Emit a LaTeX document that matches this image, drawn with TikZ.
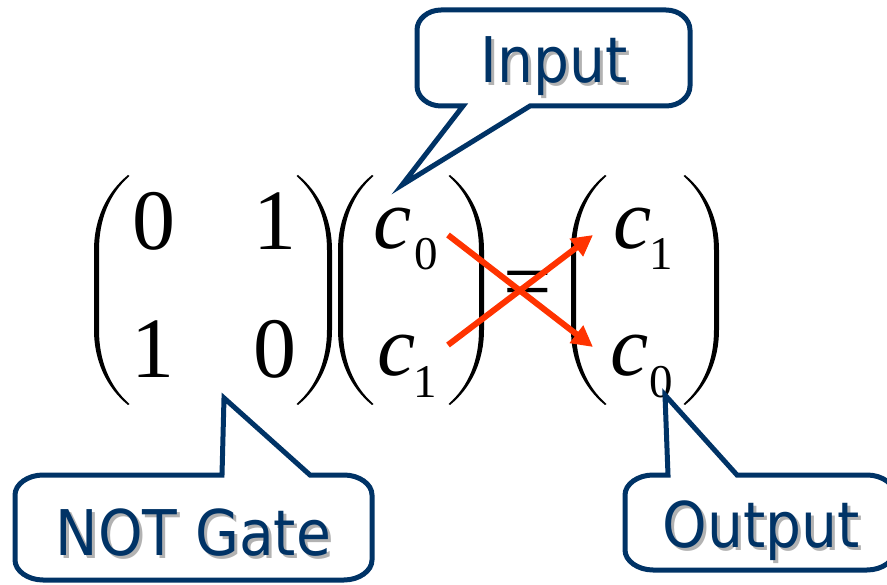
\documentclass[tikz,border=0pt]{standalone}
\usepackage{fontspec}
\usetikzlibrary{arrows.meta}
\newfontfamily\mathserif{Liberation Serif}
\newfontfamily\labelfont{DejaVu Sans Condensed}
\definecolor{calloutblue}{RGB}{0,51,102}
\definecolor{swaporange}{RGB}{255,51,0}
\definecolor{textshadow}{RGB}{178,178,178}

\tikzset{
  entry/.style={inner sep=0pt, anchor=base, font=\mathserif\fontsize{86}{90}\selectfont},
  amplitude/.style={inner sep=0pt, anchor=base, font=\mathserif\itshape\fontsize{86}{90}\selectfont},
  index/.style={inner sep=0pt, anchor=base, font=\mathserif\fontsize{47}{50}\selectfont},
  calloutbox/.style={draw=calloutblue, line width=5pt, fill=white, line join=miter},
  calloutlabel/.style={inner sep=0pt, anchor=base, text=calloutblue,
    font=\labelfont\fontsize{63}{66}\selectfont},
  labelshadow/.style={calloutlabel, text=textshadow},
  swaparrow/.style={draw=swaporange, line width=6pt,
    -{Triangle[length=21pt,width=21pt]}},
  % tall parenthesis, tip at the origin, opening to the right
  paren/.pic={
    \fill (0,0) .. controls (-22,18) and (-34,45) .. (-34,75)
      -- (-34,155) .. controls (-34,185) and (-22,212) .. (0,230)
      -- (1.5,229) .. controls (-19,211) and (-29,185) .. (-29,155)
      -- (-29,75) .. controls (-29,45) and (-19,19) .. (1.5,1) -- cycle;
  }
}

\begin{document}
\begin{tikzpicture}[x=1pt, y=-1pt]
  \useasboundingbox (0,0) rectangle (887,585);
  \fill[white] (0,0) rectangle (887,585);

  % NOT gate matrix
  \pic at (128,175) {paren};
  \pic[xscale=-1] at (298,175) {paren};
  \node[entry] (m11) at (154,250) {0};
  \node[entry] (m12) at (275,250) {1};
  \node[entry] (m21) at (153,378) {1};
  \node[entry] (m22) at (275,378) {0};

  % input vector
  \pic at (372,175) {paren};
  \pic[xscale=-1] at (450,175) {paren};
  \node[amplitude] (inc0) at (393,249) {c};
  \node[index] (inc0i) at (426,270) {0};
  \node[amplitude] (inc1) at (397,376) {c};
  \node[index] (inc1i) at (425,398) {1};

  % equals sign
  \node[entry] (eq) at (528,311) {=};

  % output vector
  \pic at (605,175) {paren};
  \pic[xscale=-1] at (685,175) {paren};
  \node[amplitude] (outc1) at (633,249) {c};
  \node[index] (outc1i) at (661.5,270) {1};
  \node[amplitude] (outc0) at (630,376) {c};
  \node[index] (outc0i) at (661.5,398) {0};

  % swapped amplitudes
  \coordinate (fromc0) at (448,235);
  \coordinate (fromc1) at (448,345);
  \coordinate (toc0) at (593,347);
  \coordinate (toc1) at (593,235);
  \draw[swaparrow] (fromc0) -- (toc0);
  \draw[swaparrow] (fromc1) -- (toc1);

  % callouts: rounded box with a pointer, traced from the pointer tip
  \draw[calloutbox] (402,185) -- (530,106) -- (666,106)
    .. controls (679,106) and (690,97) .. (690,86) -- (690,30)
    .. controls (690,19) and (679,10) .. (666,10) -- (441,10)
    .. controls (428,10) and (417,19) .. (417,30) -- (417,86)
    .. controls (417,97) and (428,106) .. (441,106) -- (463,106) -- cycle;
  \node[labelshadow] (inputshadow) at (557,86) {Input};
  \node[calloutlabel] (inputlabel) at (554,83) {Input};

  \draw[calloutbox] (224,398) -- (310,475) -- (344,475)
    .. controls (359,475) and (372,484) .. (372,495) -- (372,560)
    .. controls (372,571) and (359,580) .. (344,580) -- (43,580)
    .. controls (28,580) and (15,571) .. (15,560) -- (15,495)
    .. controls (15,484) and (28,475) .. (43,475) -- (222,475) -- cycle;
  \node[labelshadow] (gateshadow) at (196.5,558) {NOT Gate};
  \node[calloutlabel] (gatelabel) at (193.5,555) {NOT Gate};

  \draw[calloutbox] (665,395) -- (737,475) -- (867,475)
    .. controls (882,475) and (895,484) .. (895,495) -- (895,550)
    .. controls (895,561) and (882,570) .. (867,570) -- (653,570)
    .. controls (638,570) and (625,561) .. (625,550) -- (625,495)
    .. controls (625,484) and (638,475) .. (653,475) -- (668,475) -- cycle;
  \node[labelshadow] (outputshadow) at (764,550) {Output};
  \node[calloutlabel] (outputlabel) at (761,547) {Output};
\end{tikzpicture}
\end{document}
